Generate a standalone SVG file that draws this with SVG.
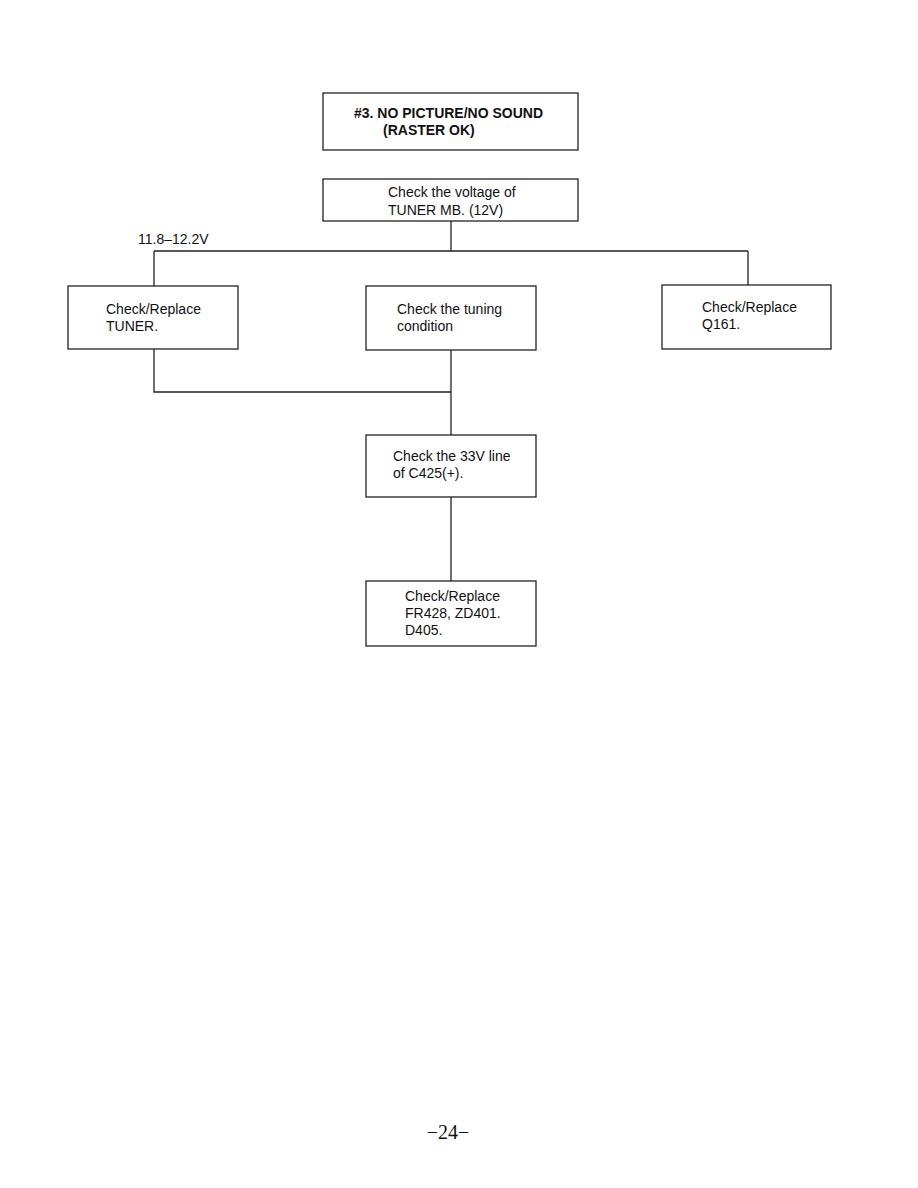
<svg xmlns="http://www.w3.org/2000/svg" width="918" height="1188" viewBox="0 0 918 1188">
<style>
.box{fill:#fff;stroke:#222;stroke-width:1.3}
.t{font-family:"Liberation Sans",Arial,sans-serif;font-size:14px;fill:#111}
.b{font-weight:bold}
.c{fill:none;stroke:#222;stroke-width:1.3}
</style>
<rect width="918" height="1188" fill="#fff"/>
<g id="connectors">
<path class="c" d="M451 221V251M154 251H748M154 251V286M748 251V285"/>
<path class="c" d="M154 349V392H451M451 350V435M451 497V581"/>
</g>
<g id="title"><rect class="box" x="323" y="93" width="255" height="57"/>
<text class="t b" x="354" y="118">#3. NO PICTURE/NO SOUND</text>
<text class="t b" x="383" y="135">(RASTER OK)</text></g>
<g id="voltage"><rect class="box" x="323" y="179" width="255" height="42"/>
<text class="t" x="388" y="197">Check the voltage of</text>
<text class="t" x="388" y="215">TUNER MB. (12V)</text></g>
<g id="label"><text class="t" x="138" y="244">11.8–12.2V</text></g>
<g id="tuner"><rect class="box" x="68" y="286" width="170" height="63"/>
<text class="t" x="106" y="314">Check/Replace</text>
<text class="t" x="106" y="331">TUNER.</text></g>
<g id="tuning"><rect class="box" x="366" y="286" width="170" height="64"/>
<text class="t" x="397" y="314">Check the tuning</text>
<text class="t" x="397" y="331">condition</text></g>
<g id="q161"><rect class="box" x="662" y="285" width="169" height="64"/>
<text class="t" x="702" y="312">Check/Replace</text>
<text class="t" x="702" y="329">Q161.</text></g>
<g id="line33"><rect class="box" x="366" y="435" width="170" height="62"/>
<text class="t" x="393" y="461">Check the 33V line</text>
<text class="t" x="393" y="478">of C425(+).</text></g>
<g id="fr428"><rect class="box" x="366" y="581" width="170" height="65"/>
<text class="t" x="405" y="601">Check/Replace</text>
<text class="t" x="405" y="618">FR428, ZD401.</text>
<text class="t" x="405" y="635">D405.</text></g>
<text x="448" y="1139" text-anchor="middle" style="font-family:'Liberation Serif',serif;font-size:20px;fill:#111">−24−</text>
</svg>
